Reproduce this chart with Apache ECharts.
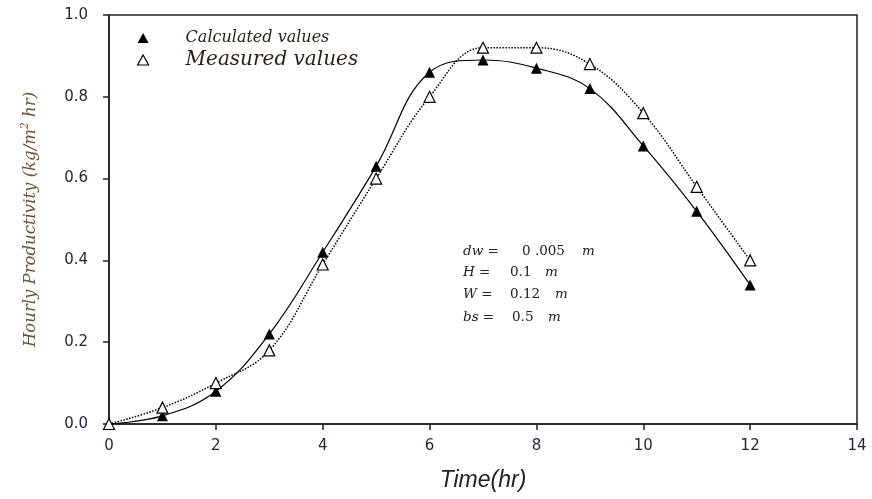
<!DOCTYPE html>
<html><head><meta charset="utf-8">
<script src="https://cdn.jsdelivr.net/npm/echarts@6/dist/echarts.min.js"></script>
<style>html,body{margin:0;padding:0;background:#fff}#c{width:872px;height:499px}</style>
</head><body><div id="c"></div>
<script>
var hours = [0,1,2,3,4,5,6,7,8,9,10,11,12];
var calculated = [0,0.02,0.08,0.22,0.42,0.63,0.86,0.89,0.87,0.82,0.68,0.52,0.34];
var measured = [0,0.04,0.10,0.18,0.39,0.60,0.80,0.92,0.92,0.88,0.76,0.58,0.40];
var xTicks = [0,2,4,6,8,10,12,14];
var yTicks = [0,0.2,0.4,0.6,0.8,1.0];
var paramNames = ['dw =','H =','W =','bs ='];
var paramValues = ['0 .005','0.1','0.12','0.5'];
var paramUnits = ['m','m','m','m'];

function pairs(xs, ys){ return xs.map(function(x,i){return [x, ys[i]];}); }

var chart = echarts.init(document.getElementById('c'));
var labelColor = '#1f2340';
var serif = 'DejaVu Serif';
var valLeft = [522,510,510,512];
var unitLeft = [582,545,555,548];
var lineTop = [244,265,287,310];
var graphics = [];
paramNames.forEach(function(n,i){
  var f = {fontSize:13.5,fontStyle:'italic',fontFamily:serif,fill:'#222'};
  graphics.push({type:'text',left:463,top:lineTop[i],style:Object.assign({text:n},f)});
  graphics.push({type:'text',left:valLeft[i],top:lineTop[i],style:{text:paramValues[i],fontSize:13.5,fontFamily:serif,fill:'#222'}});
  graphics.push({type:'text',left:unitLeft[i],top:lineTop[i],style:Object.assign({text:paramUnits[i]},f)});
});

chart.setOption({
  animation:false,
  grid:{left:109,right:15,top:15,bottom:75,show:true,borderColor:'#222',borderWidth:1.5},
  legend:{
    orient:'vertical',left:132,top:25,itemGap:4,itemWidth:11,itemHeight:10,
    data:[
      {name:'Calculated values',icon:'triangle',textStyle:{fontSize:16,fontStyle:'italic',fontFamily:serif,color:'#2a1f10',padding:[0,0,0,32]}},
      {name:'Measured values',icon:'triangle',itemStyle:{color:'#fff',borderColor:'#000',borderWidth:1.2},textStyle:{fontSize:20,fontStyle:'italic',fontFamily:serif,color:'#2a1f10',padding:[0,0,0,32]}}
    ]
  },
  xAxis:{
    type:'value',min:xTicks[0],max:xTicks[xTicks.length-1],interval:2,
    name:'Time(hr)',nameLocation:'middle',nameGap:45,
    nameTextStyle:{fontSize:23,fontStyle:'italic',fontFamily:'Liberation Sans',color:'#222'},
    axisLine:{lineStyle:{color:'#222',width:1.5}},
    axisTick:{show:true,length:6,lineStyle:{color:'#222',width:1.5}},
    axisLabel:{fontSize:15,fontFamily:'DejaVu Sans',color:labelColor,margin:15},
    splitLine:{show:false}
  },
  yAxis:{
    type:'value',min:yTicks[0],max:yTicks[yTicks.length-1],interval:0.2,
    name:'{a|Hourly Productivity (kg/m}{s|2}{a| hr)}',nameLocation:'middle',nameGap:67,
    nameTextStyle:{
      rich:{
        a:{fontSize:16.5,fontStyle:'italic',fontFamily:serif,color:'#6b5530',lineHeight:22},
        s:{fontSize:11,fontStyle:'italic',fontFamily:serif,color:'#6b5530',verticalAlign:'top',lineHeight:22}
      }
    },
    axisLine:{lineStyle:{color:'#222',width:1.5}},
    axisTick:{show:true,length:6,lineStyle:{color:'#222',width:1.5}},
    axisLabel:{fontSize:15,fontFamily:'DejaVu Sans',color:labelColor,margin:21,formatter:function(v){return v.toFixed(1);}},
    splitLine:{show:false}
  },
  graphic:graphics,
  series:[
    {name:'Calculated values',type:'line',data:pairs(hours,calculated),smooth:0.4,
     symbol:'triangle',symbolSize:11,itemStyle:{color:'#000'},
     lineStyle:{color:'#000',width:1.2,type:'solid'},z:3},
    {name:'Measured values',type:'line',data:pairs(hours,measured),smooth:0.4,
     symbol:'triangle',symbolSize:11,itemStyle:{color:'#fff',borderColor:'#000',borderWidth:1.2},
     lineStyle:{color:'#000',width:1.5,type:'dotted'},z:4}
  ]
});
</script></body></html>
